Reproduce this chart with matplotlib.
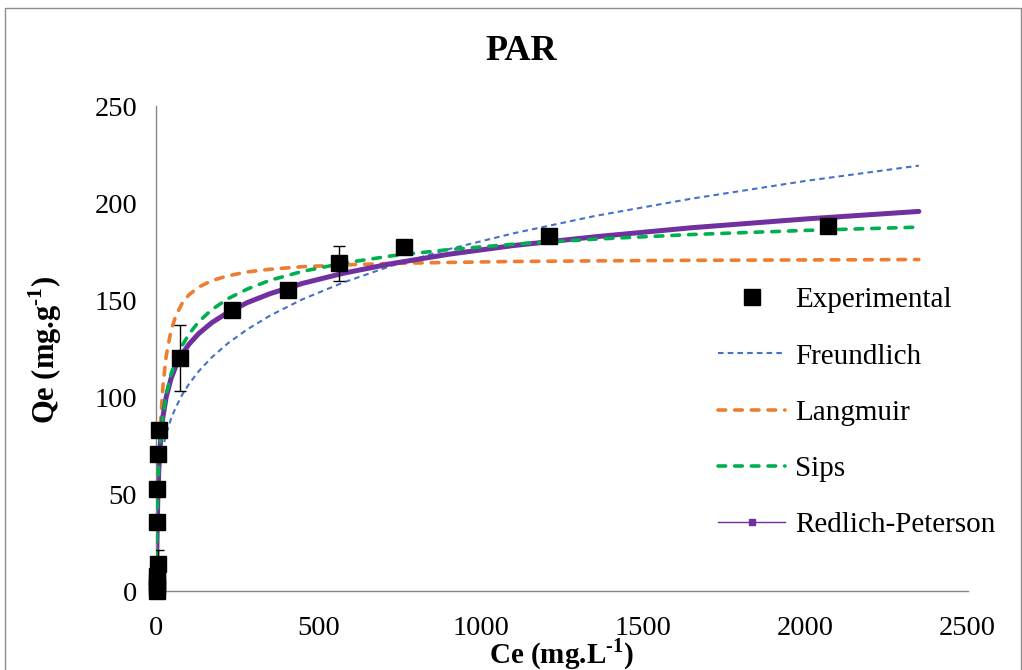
import matplotlib
matplotlib.use('Agg')
import matplotlib.pyplot as plt
from matplotlib.lines import Line2D
from matplotlib.patches import Rectangle

plt.rcParams['font.family'] = ['Liberation Serif', 'DejaVu Serif']
plt.rcParams['mathtext.fontset'] = 'custom'
plt.rcParams['mathtext.rm'] = 'Liberation Serif:bold'
plt.rcParams['mathtext.bf'] = 'Liberation Serif:bold'
plt.rcParams['lines.scale_dashes'] = False

# experimental isotherm (Ce in mg/L, Qe in mg/g)
ce_exp = [0.2, 0.5, 1.0, 1.5, 4.0, 2.5, 2.5, 5.0, 9.0, 71, 233, 405, 563, 764, 1210, 2070]
qe_exp = [0.3, 2.5, 5.0, 8.0, 14.3, 35.7, 52.9, 71.0, 83.0, 120.1, 144.9, 155.5, 169.2, 177.5, 183.3, 188.4]
qe_err = [0, 0, 0, 0, 7.0, 0, 0, 0, 0, 17.0, 0, 0, 9.0, 0, 0, 0]

# fitted model curves
ce_fit = [0, 1, 2, 4, 7, 10, 15, 20, 30, 45, 60, 80, 100, 130, 170, 220, 280,
          350, 450, 575, 725, 900, 1100, 1350, 1650, 2000, 2350]
ce_freund = [0.1] + ce_fit[1:]
q_freundlich = [22.1, 37.4, 43.8, 51.3, 58.3, 63.2, 69.3, 74.0, 81.2, 89.1, 95.1, 101.6, 106.9,
                113.5, 120.6, 127.9, 135.1, 142.2, 150.6, 159.2, 167.9, 176.4, 184.6, 193.5,
                202.5, 211.6, 219.5]
q_langmuir = [0, 12.7, 23.7, 41.7, 61.7, 76.4, 93.8, 105.8, 121.4, 134.6, 142.3, 148.8, 152.9,
              156.9, 160.2, 162.7, 164.7, 166.1, 167.4, 168.3, 169.1, 169.6, 170.1, 170.4,
              170.7, 170.9, 171.1]
q_sips = [0, 30.0, 40.2, 52.8, 64.8, 73.1, 83.2, 90.6, 101.3, 112.1, 119.6, 127.0, 132.6,
          139.0, 145.2, 150.9, 155.9, 160.4, 165.0, 169.2, 173.0, 176.2, 179.0, 181.6,
          184.0, 186.1, 187.8]
q_redlich = [0, 18.3, 30.6, 46.8, 61.8, 71.6, 82.6, 90.1, 100.2, 109.8, 116.3, 122.6, 127.4,
             132.9, 138.5, 143.8, 148.9, 153.5, 158.8, 164.0, 169.0, 173.8, 178.3, 182.8,
             187.5, 192.0, 195.9]

xticks = [0, 500, 1000, 1500, 2000, 2500]
yticks = [0, 50, 100, 150, 200, 250]

c_blue = '#4472C4'
c_orange = '#ED7D31'
c_green = '#00B050'
c_purple = '#7030A0'

fig = plt.figure(figsize=(10.22, 6.70), dpi=100)
# chart area border
fig.add_artist(Rectangle((4.5 / 1022, -0.1), (1020.5 - 4.5) / 1022, 1.1 - 8 / 670,
                         transform=fig.transFigure, fill=False, edgecolor='#8c8c8c',
                         linewidth=1.0))
ax = fig.add_axes([0.1531, 0.1172, 0.7936, 0.7239])

ax.plot(ce_freund, q_freundlich, color=c_blue, lw=1.5, dashes=(4, 3), zorder=2)
ax.plot(ce_fit, q_langmuir, color=c_orange, lw=2.6, dashes=(5.5, 6.5),
        dash_capstyle='round', zorder=2)
ax.plot(ce_fit, q_sips, color=c_green, lw=2.6, dashes=(5.5, 6.5),
        dash_capstyle='round', zorder=3)
ax.plot(ce_fit, q_redlich, color=c_purple, lw=3.6, solid_capstyle='round', zorder=2.5)

ax.errorbar(ce_exp, qe_exp, yerr=qe_err, fmt='none', ecolor='black', elinewidth=1,
            capsize=4, capthick=1, zorder=4)
ax.plot(ce_exp, qe_exp, 's', color='black', ms=11.5, zorder=5, clip_on=False)

ax.set_xlim(0, 2500)
ax.set_ylim(0, 250)
ax.set_xticks(xticks)
ax.set_yticks(yticks)
ax.tick_params(length=0, labelsize=20.5)
ax.tick_params(axis='x', pad=18)
ax.tick_params(axis='y', pad=14)
for side in ['top', 'right']:
    ax.spines[side].set_visible(False)
for side in ['left', 'bottom']:
    ax.spines[side].set_color('#868686')
    ax.spines[side].set_linewidth(1.0)

fig.text(521 / 1022, 1 - 51 / 670, 'PAR', fontsize=26, fontweight='bold',
         ha='center', va='center')
fig.text(562 / 1022, 1 - 654 / 670, r'Ce (mg.L$^{\text{-}1}$)', fontsize=21,
         fontweight='bold', ha='center', va='center')
fig.text(45 / 1022, 1 - 350 / 670, r'Qe (mg.g$^{\text{-}1}$)', fontsize=22,
         fontweight='bold', ha='center', va='center', rotation=90)

handles = [
    Line2D([], [], ls='none', marker='s', color='black', ms=11.5),
    Line2D([], [], color=c_blue, lw=1.5, dashes=(4, 3)),
    Line2D([], [], color=c_orange, lw=2.6, dashes=(5.5, 6.5), dash_capstyle='round'),
    Line2D([], [], color=c_green, lw=2.6, dashes=(5.5, 6.5), dash_capstyle='round'),
    Line2D([], [], color=c_purple, lw=1.0, marker='s', ms=4),
]
labels = ['Experimental', 'Freundlich', 'Langmuir', 'Sips', 'Redlich-Peterson']
fig.legend(handles, labels, loc='upper left', bbox_to_anchor=(718 / 1022, 1 - 287 / 670),
           bbox_transform=fig.transFigure, frameon=False, fontsize=21, borderpad=0,
           borderaxespad=0, handlelength=2.3, handletextpad=0.35, labelspacing=1.02)

fig.savefig('out.png', dpi=100)
